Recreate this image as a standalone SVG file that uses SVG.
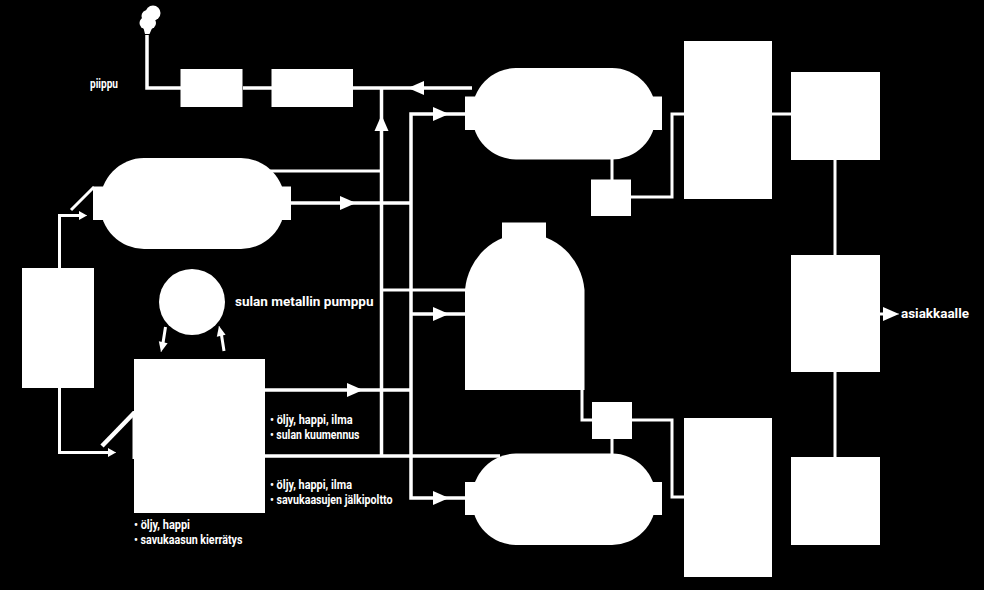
<svg xmlns="http://www.w3.org/2000/svg" width="984" height="590" viewBox="0 0 984 590">
<style>
.n{fill:#fff;stroke:none}
.c{fill:none;stroke:#fff;stroke-width:3.500}
.t{stroke-width:3}
.k{stroke-width:4.500}
.h{fill:none;stroke:#fff;stroke-width:.5}
.l{fill:#fff;font-family:"Roboto","Liberation Sans",sans-serif;font-weight:700;font-size:13px}
.w{font-size:12px}
</style>
<defs>
<marker id="a" markerUnits="userSpaceOnUse" markerWidth="16" markerHeight="16" refX="16" refY="8" orient="auto" viewBox="0 0 16 16"><path d="M0 1L16 8L0 15Z" fill="#fff"/></marker>
<marker id="s" markerUnits="userSpaceOnUse" markerWidth="10" markerHeight="10" refX="9" refY="5" orient="auto" viewBox="0 0 10 10"><path d="M1 0.500L9 5L1 9.500Z" fill="#fff"/></marker>
<marker id="m" markerUnits="userSpaceOnUse" markerWidth="12" markerHeight="12" refX="11" refY="6" orient="auto" viewBox="0 0 12 12"><path d="M1 1.500L11 6L1 10.500Z" fill="#fff"/></marker>
</defs>
<rect width="984" height="590" fill="#000"/>
<g id="connectors">
<path class="c" d="M147 35V88H181M243 88H272M353 88H472"/>
<path class="c" d="M381.500 88V456"/>
<path class="c" d="M465 114H411V498H465"/>
<path class="c t" d="M270 171H382M382 290H466"/>
<path class="c" d="M291 203H411M411 314H466M265 390H411M265 456H500"/>
<path class="c t" d="M59.500 268V215.500H80"/>
<path class="c t" d="M59.500 388V452.500H108"/>
<path class="c t" d="M71 210L94 187"/>
<path class="c k" d="M102 446L134 413"/>
<path class="c t" d="M612 159V180M631 197H672V114H685M772 114H792"/>
<path class="c t" d="M835 160V256M835 372V458"/>
<path class="c t" d="M582 389V420H593M632 420H672V497H685M612 439V456"/>
<path class="c t" d="M880 314H886"/>
<path class="c t" d="M165.500 327L163 343M224 351L221.500 335"/>
<path class="h" marker-end="url(#a)" d="M425 88H408"/>
<path class="h" marker-end="url(#a)" d="M381.500 131V115"/>
<path class="h" marker-end="url(#a)" d="M340 203H356"/>
<path class="h" marker-end="url(#a)" d="M433 114H449"/>
<path class="h" marker-end="url(#a)" d="M433 314H449"/>
<path class="h" marker-end="url(#a)" d="M347 390H363"/>
<path class="h" marker-end="url(#a)" d="M433 498H449"/>
<path class="h" marker-end="url(#m)" d="M163.500 341L161 352"/>
<path class="h" marker-end="url(#m)" d="M221.500 337L219 326"/>
<path class="h" marker-end="url(#s)" d="M79 215.500H87"/>
<path class="h" marker-end="url(#s)" d="M108 452.500H116"/>
<path class="h" marker-end="url(#a)" d="M884 314H899"/>
</g>
<g id="smoke" class="n"><circle cx="153" cy="13" r="7.500"/><circle cx="147.500" cy="16" r="6"/><circle cx="145.500" cy="23" r="6"/><circle cx="150" cy="23" r="6"/><path d="M143 26H153L149.500 34H145Z"/></g>
<g id="filter-1"><rect class="n" x="180.500" y="69" width="62" height="38"/></g>
<g id="filter-2"><rect class="n" x="271.500" y="69" width="81.500" height="38"/></g>
<g id="vessel-left" class="n"><rect x="100" y="158" width="185" height="91" rx="44" ry="45"/><rect x="93" y="186.500" width="198" height="33.500"/></g>
<g id="vessel-top" class="n"><rect x="472" y="68" width="184" height="91.500" rx="44" ry="45"/><rect x="465" y="96.500" width="197" height="33.500"/></g>
<g id="vessel-bottom" class="n"><rect x="472" y="453.500" width="184" height="91.500" rx="44" ry="45"/><rect x="465" y="482" width="197" height="33"/></g>
<g id="vessel-middle" class="n"><path d="M465 390V290A60 62 0 0 1 584.500 290V390Z"/><rect x="502" y="222.500" width="44" height="16"/></g>
<g id="feed-box"><rect class="n" x="22" y="268" width="72" height="120"/></g>
<g id="pump"><circle class="n" cx="192" cy="302" r="33"/></g>
<g id="furnace" class="n"><rect x="134" y="359" width="131" height="154"/><rect x="132.500" y="411" width="2" height="48"/></g>
<g id="small-top"><rect class="n" x="591" y="179.500" width="40" height="36.500"/></g>
<g id="small-bottom"><rect class="n" x="592" y="402" width="40" height="37"/></g>
<g id="tall-top"><rect class="n" x="684" y="41" width="88" height="158"/></g>
<g id="tall-bottom"><rect class="n" x="684" y="418" width="88" height="159"/></g>
<g id="box-top"><rect class="n" x="791" y="72" width="89" height="88"/></g>
<g id="box-middle"><rect class="n" x="791" y="255" width="89" height="117"/></g>
<g id="box-bottom"><rect class="n" x="791" y="457" width="89" height="88"/></g>
<g id="labels">
<text class="l" x="90" y="88" textLength="28" lengthAdjust="spacingAndGlyphs">piippu</text>
<text class="l w" x="235" y="305.500" textLength="138.500" lengthAdjust="spacingAndGlyphs">sulan metallin pumppu</text>
<text class="l" x="270" y="423.500" textLength="82.500" lengthAdjust="spacingAndGlyphs">• öljy, happi, ilma</text>
<text class="l" x="270" y="438.500" textLength="89.500" lengthAdjust="spacingAndGlyphs">• sulan kuumennus</text>
<text class="l" x="270" y="489" textLength="82" lengthAdjust="spacingAndGlyphs">• öljy, happi, ilma</text>
<text class="l" x="270" y="504" textLength="122.500" lengthAdjust="spacingAndGlyphs">• savukaasujen jälkipoltto</text>
<text class="l" x="134" y="528.500" textLength="56" lengthAdjust="spacingAndGlyphs">• öljy, happi</text>
<text class="l" x="134" y="543.500" textLength="108.500" lengthAdjust="spacingAndGlyphs">• savukaasun kierrätys</text>
<text class="l w" x="901" y="317.500" textLength="68" lengthAdjust="spacingAndGlyphs">asiakkaalle</text>
</g>
</svg>
